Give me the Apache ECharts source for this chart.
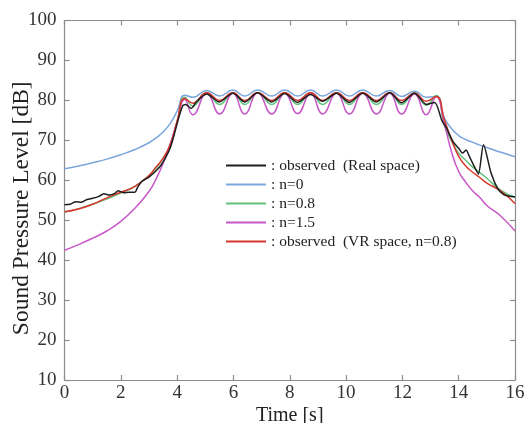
<!DOCTYPE html>
<html>
<head>
<meta charset="utf-8">
<script src="https://cdn.jsdelivr.net/npm/echarts@6/dist/echarts.min.js"></script>
<style>
html,body{margin:0;padding:0;background:#fff;}
#chart{width:529px;height:423px;}
</style>
</head>
<body>
<div id="chart"></div>
<script>
// Time samples shared by the model curves and the VR observation [s]
const time = [0, 0.5, 1, 1.5, 2, 2.5, 3, 3.25, 3.5, 3.75, 4.0,
  4.27, 4.56, 5.05, 5.51, 5.98, 6.40, 6.86, 7.36, 7.82, 8.28, 8.74, 9.17, 9.66, 10.12,
  10.59, 11.08, 11.55, 11.97, 12.43, 12.85, 13.2,
  13.5, 13.75, 14, 14.25, 14.5, 14.75, 15, 15.5, 16];

// n=0 (blue)
const n0 = [62.9, 63.6, 64.4, 65.3, 66.4, 67.7, 69.4, 70.6, 72.1, 74.2, 77.3,
  81.3, 80.8, 82.5, 81.1, 82.6, 81.1, 82.6, 81.1, 82.6, 81.1, 82.6, 81.1, 82.6, 81.1,
  82.6, 81.1, 82.5, 81.0, 82.3, 80.8, 81.0,
  75.5, 72.9, 71.2, 70.2, 69.5, 68.8, 68.2, 67.0, 65.9];

// n=0.8 (green)
const n08 = [52.0, 52.9, 54.0, 55.3, 56.8, 58.5, 61.2, 63.0, 65.5, 68.8, 74.8,
  80.8, 78.6, 82.0, 79.0, 82.0, 79.0, 82.0, 79.0, 82.0, 79.0, 82.0, 79.0, 82.0, 79.0,
  82.0, 79.0, 82.0, 79.0, 81.9, 78.8, 81.2,
  73.5, 69.8, 66.8, 65.0, 63.3, 61.9, 60.5, 57.5, 55.8];

// n=1.5 (magenta)
const n15 = [42.5, 43.9, 45.5, 47.3, 49.7, 53.0, 57.2, 60.3, 64.2, 69.0, 74.5,
  80.3, 76.4, 81.8, 76.6, 81.8, 76.6, 81.9, 76.6, 81.8, 76.7, 81.8, 76.6, 81.8, 76.6,
  81.8, 76.6, 81.8, 76.6, 81.6, 76.4, 81.0,
  73.8, 67.0, 62.2, 59.5, 57.3, 55.7, 53.7, 51.0, 47.3];

// observed (VR space, n=0.8) (red)
const obsVR = [52.1, 52.8, 54.0, 55.6, 57.0, 58.5, 61.2, 63.3, 65.5, 68.8, 74.8,
  80.5, 79.3, 81.9, 80.0, 81.9, 80.0, 81.9, 80.0, 81.9, 80.0, 81.9, 80.0, 81.9, 80.0,
  81.9, 80.0, 81.9, 80.0, 81.8, 79.8, 81.0,
  75.0, 70.0, 66.0, 63.6, 62.0, 60.7, 59.3, 57.3, 54.2];

// observed (Real space) (black), own sampling
const realT = [0, 0.2, 0.4, 0.6, 0.8, 1.0, 1.2, 1.4, 1.6, 1.8, 1.9, 2.1, 2.3, 2.5, 2.6, 2.75,
  3.0, 3.2, 3.4, 3.6, 3.75, 3.9, 4.05, 4.2, 4.3, 4.5, 4.7, 5.05, 5.5, 5.98, 6.4, 6.86,
  7.36, 7.82, 8.28, 8.74, 9.17, 9.66, 10.12, 10.59, 11.08, 11.55, 11.97, 12.43, 12.85,
  13.15, 13.4, 13.55, 13.8, 14.0, 14.14, 14.26, 14.38, 14.55, 14.7, 14.88, 15.15, 15.38,
  15.6, 15.8, 16];
const realV = [53.9, 54.0, 54.6, 54.5, 55.2, 55.5, 55.9, 56.6, 56.3, 56.8, 57.4, 56.9, 57.0, 57.0, 58.3, 59.7,
  60.8, 62.0, 63.5, 65.8, 68.0, 71.5, 75.5, 78.7, 79.0, 78.0, 79.8, 81.6, 79.6, 81.8, 79.6, 81.9,
  79.6, 81.7, 79.5, 81.5, 79.8, 81.8, 79.5, 81.8, 79.6, 81.9, 79.4, 81.8, 79.0,
  79.5, 75.0, 73.3, 69.7, 68.0, 66.8, 67.6, 66.0, 63.5, 61.6, 68.9, 61.8, 58.0,
  56.4, 56.0, 55.8];

const xTicks = [0, 2, 4, 6, 8, 10, 12, 14, 16];
const yTicks = [10, 20, 30, 40, 50, 60, 70, 80, 90, 100];

const names = ['observed  (Real space)', 'n=0', 'n=0.8', 'n=1.5', 'observed  (VR space, n=0.8)'];
const colors = ['#1e1e1e', '#7aa6dc', '#62c27e', '#c858c8', '#d8382c'];

const pair = (ts, vs) => ts.map((t, i) => [t, vs[i]]);
const FONT = '"Liberation Serif", "Times New Roman", serif';

const chart = echarts.init(document.getElementById('chart'), null, {renderer: 'canvas'});

const axisLineStyle = {color: '#8c8c8c', width: 1.2};

function mkSeries(name, data, color, smooth, z) {
  return {
    name: name, type: 'line', data: data, showSymbol: false, symbol: 'none',
    smooth: smooth, z: z, color: color,
    lineStyle: {color: color, width: 1.5},
    xAxisIndex: 0, yAxisIndex: 0
  };
}

chart.setOption({
  animation: false,
  backgroundColor: '#ffffff',
  grid: {left: 64.5, right: 14, top: 20.5, bottom: 43, containLabel: false, outerBoundsMode: 'none'},
  legend: {
    orient: 'vertical', left: 221, top: 151,
    itemWidth: 40, itemHeight: 2, itemGap: 0,
    icon: 'rect',
    data: names,
    formatter: n => ': ' + n,
    textStyle: {fontFamily: FONT, fontSize: 15.5, color: '#222', lineHeight: 19}
  },
  xAxis: [{
    type: 'value', min: 0, max: 16, interval: 2, position: 'bottom',
    name: 'Time [s]', nameLocation: 'middle', nameGap: 26, nameMoveOverlap: false,
    nameTextStyle: {fontFamily: FONT, fontSize: 20, color: '#222'},
    axisLine: {show: true, onZero: false, lineStyle: axisLineStyle},
    axisTick: {show: true, inside: true, length: 5, lineStyle: axisLineStyle},
    axisLabel: {fontFamily: FONT, fontSize: 19, color: '#333', margin: 4},
    splitLine: {show: false}
  }, {
    type: 'value', min: 0, max: 16, interval: 2, position: 'top',
    axisLine: {show: true, onZero: false, lineStyle: axisLineStyle},
    axisTick: {show: true, inside: true, length: 5, lineStyle: axisLineStyle},
    axisLabel: {show: false}, splitLine: {show: false}
  }],
  yAxis: [{
    type: 'value', min: 10, max: 100, interval: 10, position: 'left',
    name: 'Sound Pressure Level [dB]', nameLocation: 'middle', nameGap: 31, nameMoveOverlap: false,
    nameRotate: 90,
    nameTextStyle: {fontFamily: FONT, fontSize: 23.5, color: '#222', padding: [0, 16, 0, 0]},
    axisLine: {show: true, onZero: false, lineStyle: axisLineStyle},
    axisTick: {show: true, inside: true, length: 5, lineStyle: axisLineStyle},
    axisLabel: {fontFamily: FONT, fontSize: 19, color: '#333', margin: 8},
    splitLine: {show: false}
  }, {
    type: 'value', min: 10, max: 100, interval: 10, position: 'right',
    axisLine: {show: true, onZero: false, lineStyle: axisLineStyle},
    axisTick: {show: true, inside: true, length: 5, lineStyle: axisLineStyle},
    axisLabel: {show: false}, splitLine: {show: false}
  }],
  series: [
    mkSeries(names[0], pair(realT, realV), colors[0], 0.25, 5),
    mkSeries(names[1], pair(time, n0), colors[1], 0.5, 3),
    mkSeries(names[2], pair(time, n08), colors[2], 0.5, 3),
    mkSeries(names[3], pair(time, n15), colors[3], 0.5, 3),
    mkSeries(names[4], pair(time, obsVR), colors[4], 0.5, 4)
  ]
});
</script>
</body>
</html>
